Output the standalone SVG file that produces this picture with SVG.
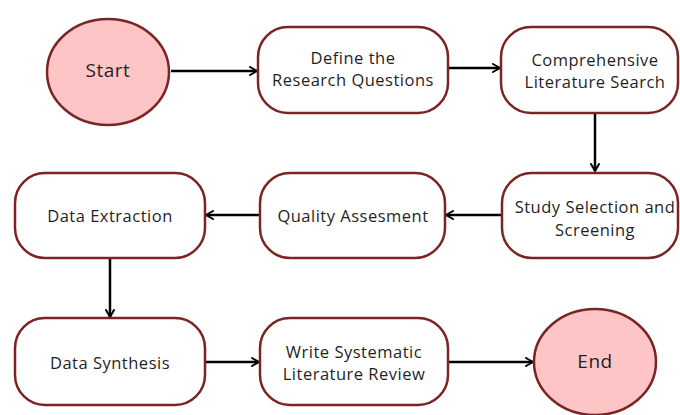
<svg xmlns="http://www.w3.org/2000/svg" width="680" height="415" viewBox="0 0 680 415">
<defs>
<style>
.box{fill:#ffffff;stroke:#7b2424;stroke-width:2.5}
.oval{fill:#fdc5c5;stroke:#7b2424;stroke-width:2.5}
.t{font-family:"Open Sans","Noto Sans",sans-serif;font-size:16.5px;letter-spacing:0.5px;fill:#1f1f1f;text-anchor:middle;dominant-baseline:central}
.big{font-size:19px}
.c{stroke:#000;stroke-width:2.5;fill:none;marker-end:url(#ah)}
</style>
<marker id="ah" viewBox="0 0 10 10" refX="8" refY="5" markerWidth="4" markerHeight="4" orient="auto" markerUnits="strokeWidth">
<path d="M1,1 L8,5 L1,9" fill="none" stroke="#000" stroke-width="2" stroke-linecap="round" stroke-linejoin="round"/>
</marker>
</defs>
<rect width="680" height="415" fill="#ffffff"/>
<g id="connectors">
<line class="c" x1="171" y1="71" x2="257" y2="71"/>
<line class="c" x1="449" y1="68" x2="500" y2="68"/>
<line class="c" x1="595" y1="114" x2="595" y2="171"/>
<line class="c" x1="501" y1="215" x2="446" y2="215"/>
<line class="c" x1="259" y1="215" x2="206" y2="215"/>
<line class="c" x1="110" y1="259" x2="110" y2="317"/>
<line class="c" x1="206" y1="362" x2="259" y2="362"/>
<line class="c" x1="449" y1="362" x2="533" y2="362"/>
</g>
<g id="start"><ellipse class="oval" cx="108" cy="72" rx="61" ry="53"/><text class="t big" x="108" y="70">Start</text></g>
<g id="define"><rect class="box" x="258" y="27" width="190" height="86" rx="30"/><text class="t" x="353" y="57">Define the</text><text class="t" x="353" y="79">Research Questions</text></g>
<g id="search"><rect class="box" x="501" y="27" width="177" height="86" rx="30"/><text class="t" x="595" y="59">Comprehensive</text><text class="t" x="595" y="81">Literature Search</text></g>
<g id="selection"><rect class="box" x="502" y="173" width="176" height="85" rx="30"/><text class="t" x="595" y="206">Study Selection and</text><text class="t" x="595" y="229">Screening</text></g>
<g id="quality"><rect class="box" x="260" y="173" width="185" height="85" rx="30"/><text class="t" x="353" y="215">Quality Assesment</text></g>
<g id="extraction"><rect class="box" x="15" y="173" width="190" height="85" rx="30"/><text class="t" x="110" y="215">Data Extraction</text></g>
<g id="synthesis"><rect class="box" x="15" y="318" width="190" height="87" rx="30"/><text class="t" x="110" y="362">Data Synthesis</text></g>
<g id="write"><rect class="box" x="260" y="318" width="188" height="87" rx="30"/><text class="t" x="354" y="351">Write Systematic</text><text class="t" x="354" y="373">Literature Review</text></g>
<g id="end"><ellipse class="oval" cx="595" cy="362" rx="61" ry="53"/><text class="t big" x="595" y="361">End</text></g>
</svg>
